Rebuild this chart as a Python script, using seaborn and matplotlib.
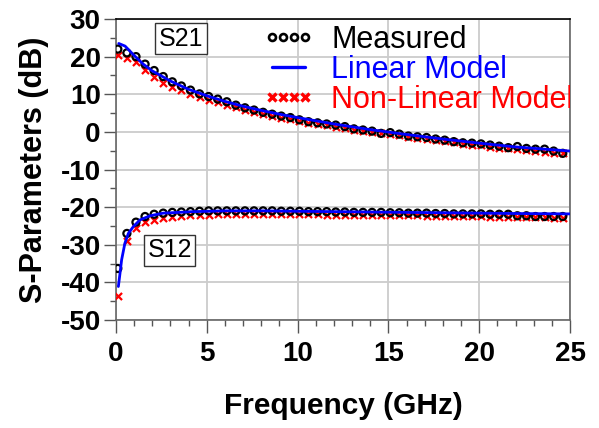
import numpy as np
import pandas as pd
import matplotlib
matplotlib.use("Agg")
import matplotlib.pyplot as plt
from matplotlib.lines import Line2D
import seaborn as sns

# ---- data ----
freq_pts = [0.1, 0.6, 1.1, 1.6, 2.1, 2.6, 3.1, 3.6, 4.1, 4.6,
            5.1, 5.6, 6.1, 6.6, 7.1, 7.6, 8.1, 8.6, 9.1, 9.6,
            10.1, 10.6, 11.1, 11.6, 12.1, 12.6, 13.1, 13.6, 14.1, 14.6,
            15.1, 15.6, 16.1, 16.6, 17.1, 17.6, 18.1, 18.6, 19.1, 19.6,
            20.1, 20.6, 21.1, 21.6, 22.1, 22.6, 23.1, 23.6, 24.1, 24.6]

s21_meas = [22.0, 21.0, 20.0, 18.0, 16.3, 14.7, 13.3, 12.2, 11.1, 10.1,
            9.4, 8.7, 8.0, 7.1, 6.4, 5.8, 5.2, 4.7, 4.2, 3.8,
            3.2, 2.7, 2.4, 2.1, 1.8, 1.4, 0.8, 0.5, 0.2, -0.4,
            -0.2, -0.6, -1.1, -1.3, -1.5, -1.9, -2.2, -2.6, -2.9, -3.0,
            -3.2, -3.5, -3.8, -4.2, -3.9, -4.4, -4.6, -4.6, -5.1, -5.7]

s21_nonlin = [20.4, 19.6, 18.5, 16.4, 14.7, 13.1, 12.0, 11.0, 10.0, 9.2,
              8.5, 7.9, 7.2, 6.5, 5.8, 5.2, 4.7, 4.2, 3.7, 3.3,
              2.8, 2.4, 2.0, 1.7, 1.3, 1.0, 0.6, 0.3, -0.1, -0.4,
              -0.6, -0.9, -1.3, -1.6, -1.9, -2.2, -2.5, -2.8, -3.1, -3.4,
              -3.6, -3.9, -4.2, -4.4, -4.6, -4.9, -5.1, -5.3, -5.5, -5.7]

s12_meas = [-36.3, -27.0, -24.0, -22.5, -21.9, -21.6, -21.4, -21.3, -21.2, -21.1,
            -21.0, -21.0, -21.0, -21.0, -21.0, -21.0, -21.0, -21.0, -21.1, -21.1,
            -21.1, -21.2, -21.2, -21.2, -21.3, -21.3, -21.4, -21.4, -21.4, -21.4,
            -21.5, -21.5, -21.6, -21.6, -21.6, -21.7, -21.7, -21.8, -21.8, -21.8,
            -21.8, -21.9, -21.9, -21.9, -22.3, -22.3, -22.5, -22.5, -22.5, -22.5]

s12_nonlin = [-43.6, -28.9, -25.6, -24.0, -23.4, -23.0, -22.7, -22.4, -22.2, -22.1,
              -22.0, -21.9, -21.9, -21.8, -21.8, -21.8, -21.8, -21.8, -21.8, -21.9,
              -21.9, -21.9, -21.9, -22.0, -22.0, -22.0, -22.0, -22.1, -22.1, -22.1,
              -22.1, -22.2, -22.2, -22.2, -22.3, -22.3, -22.3, -22.4, -22.4, -22.4,
              -22.4, -22.5, -22.5, -22.5, -22.6, -22.6, -22.7, -22.7, -22.8, -22.8]

lin21_f = [0.15, 0.5, 1.0, 1.5, 2.0, 3.0, 4.0, 5.0, 6.0, 7.0, 8.0, 9.0, 10.0,
           12.0, 14.0, 16.0, 18.0, 20.0, 22.0, 25.0]
lin21_db = [23.5, 22.8, 20.3, 18.0, 16.2, 13.5, 11.3, 9.6, 8.1, 6.8, 5.7, 4.7, 3.8,
            2.1, 0.6, -0.7, -1.9, -3.0, -4.0, -5.1]

lin12_f = [0.13, 0.22, 0.31, 0.49, 0.68, 0.95, 1.32, 1.87, 2.6, 4.25, 6.0, 8.0,
           10.0, 12.0, 14.0, 16.0, 18.0, 20.0, 22.0, 25.0]
lin12_db = [-41.1, -37.6, -34.0, -29.6, -27.0, -25.2, -23.4, -22.3, -21.6, -21.2,
            -21.0, -21.0, -21.1, -21.2, -21.3, -21.4, -21.5, -21.6, -21.7, -21.8]

x_ticks = [0, 5, 10, 15, 20, 25]
y_ticks = [30, 20, 10, 0, -10, -20, -30, -40, -50]
legend_labels = ["Measured", "Linear Model", "Non-Linear Model"]

# ---- style ----
sns.set_theme(style="white")
plt.rcParams['font.family'] = ['Liberation Sans', 'DejaVu Sans']
plt.rcParams['axes.unicode_minus'] = False
plt.rcParams['text.color'] = 'black'
plt.rcParams['axes.labelcolor'] = 'black'
plt.rcParams['xtick.color'] = 'black'
plt.rcParams['ytick.color'] = 'black'

fig = plt.figure(figsize=(5.99, 4.28), dpi=100)
ax = fig.add_axes([116/599, 1-320/428, 454/599, 301/428])

pts = pd.DataFrame({"f": freq_pts, "s21m": s21_meas, "s21n": s21_nonlin,
                    "s12m": s12_meas, "s12n": s12_nonlin})
l21 = pd.DataFrame({"f": lin21_f, "db": lin21_db})
l12 = pd.DataFrame({"f": lin12_f, "db": lin12_db})

red = "#ff0000"
blue = "#0000ff"

for col in ["s21n", "s12n"]:
    sns.scatterplot(data=pts, x="f", y=col, ax=ax, marker="x", color=red,
                    s=26, linewidth=1.6, zorder=3, legend=False)
for col in ["s21m", "s12m"]:
    sns.scatterplot(data=pts, x="f", y=col, ax=ax, marker="o", facecolor="none",
                    edgecolor="black", s=26, linewidth=1.6, zorder=4, legend=False)
for d in [l21, l12]:
    sns.lineplot(data=d, x="f", y="db", ax=ax, color=blue, linewidth=2.0,
                 zorder=5, legend=False, estimator=None, sort=False)

ax.set_xlim(0, 25)
ax.set_ylim(-50, 30)
ax.set_xticks(x_ticks)
ax.set_yticks(y_ticks)
ax.set_xticks(np.arange(0, 26, 1), minor=True)
ax.set_yticks(np.arange(-50, 31, 5), minor=True)
ax.grid(True, which="major", color="#cccccc", linewidth=1.3)
ax.set_axisbelow(True)

ax.tick_params(axis="both", which="major", direction="out", length=9, width=1.0,
               color="#555555", labelcolor="black", labelsize=20, pad=2,
               left=True, bottom=True)
ax.tick_params(axis="both", which="minor", direction="out", length=4.5, width=1.0,
               color="#555555", left=True, bottom=True)
ax.tick_params(axis="x", which="major", pad=6)
for lab in ax.get_xticklabels() + ax.get_yticklabels():
    lab.set_fontweight("bold")

for s in ["left", "bottom", "right"]:
    ax.spines[s].set_color("#666666")
    ax.spines[s].set_linewidth(1.2)
ax.spines["top"].set_color("black")
ax.spines["top"].set_linewidth(1.2)

ax.set_xlabel("Frequency (GHz)", fontsize=21.5, fontweight="bold", color="black",
              labelpad=18)
ax.set_ylabel("S-Parameters (dB)", fontsize=22, fontweight="bold", color="black",
              labelpad=8)

bbox = dict(boxstyle="square,pad=0.14", facecolor="white", edgecolor="#333333", linewidth=1.0)
ax.text(3.58, 24.7, "S21", fontsize=18, ha="center", va="center", bbox=bbox, zorder=6)
ax.text(2.95, -31.5, "S12", fontsize=18, ha="center", va="center", bbox=bbox, zorder=6)

handles = [
    Line2D([], [], linestyle="none", marker="o", markerfacecolor="none",
           markeredgecolor="black", markersize=5.0, markeredgewidth=1.9),
    Line2D([], [], color=blue, linewidth=2.4),
    Line2D([], [], linestyle="none", marker="x", color=red, markersize=5.5,
           markeredgewidth=2.4),
]
leg = ax.legend(handles, legend_labels, loc="upper left", bbox_to_anchor=(0.316, 0.99),
                frameon=False, numpoints=4, handlelength=1.7, handletextpad=0.55,
                labelspacing=0.0, borderpad=0.1, borderaxespad=0, fontsize=22)
for t, c in zip(leg.get_texts(), ["black", blue, red]):
    t.set_color(c)
    t.set_clip_on(True)
    t.set_clip_box(ax.bbox)
leg.set_zorder(7)

fig.savefig("out.png", dpi=100, facecolor="white")
